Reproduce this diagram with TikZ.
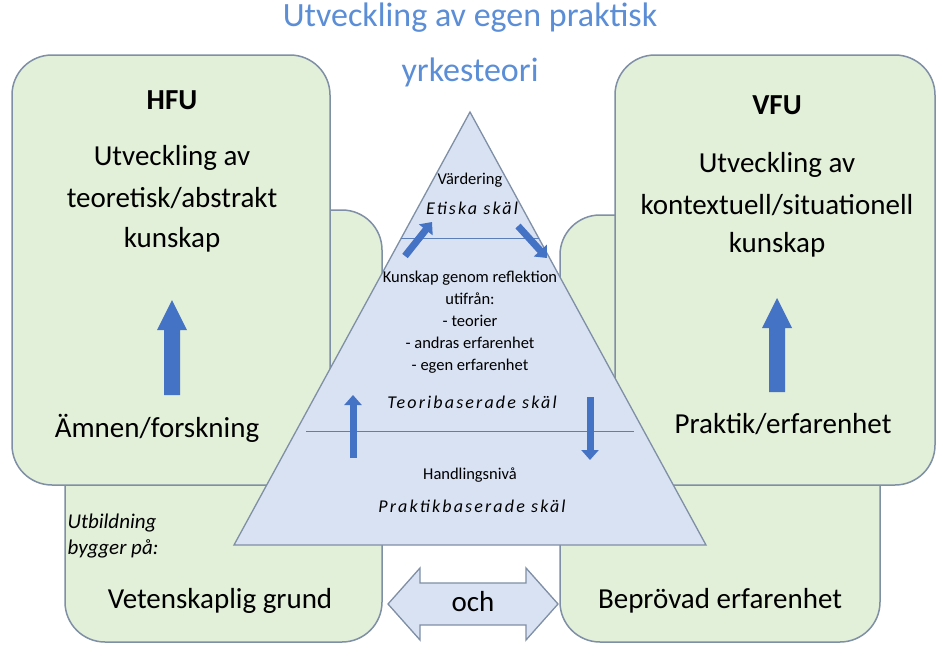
\documentclass[tikz,border=0pt]{standalone}
\usepackage{fontspec}
\setmainfont{Carlito}
\newfontfamily\spaced[LetterSpace=12]{Carlito}
\usetikzlibrary{arrows.meta}
\definecolor{gfill}{HTML}{E2EFD9}
\definecolor{bord}{HTML}{7F8FA6}
\definecolor{tfill}{HTML}{D9E2F3}
\definecolor{tline}{HTML}{5B7DB8}
\definecolor{arr}{HTML}{4472C4}
\definecolor{ttl}{HTML}{5B8ED6}
\tikzset{
 box/.style={draw=bord,line width=1.5pt,fill=gfill,rounded corners=40pt},
 big/.style={font=\fontsize{29}{32}\selectfont,align=center},
 small/.style={font=\fontsize{16.5}{22}\selectfont,align=center},
 ital/.style={font=\fontsize{18}{20}\selectfont\spaced\itshape},
 arrw/.style={fill=arr,draw=none},
}
\begin{document}
\begin{tikzpicture}[x=1pt,y=-1pt]
\useasboundingbox (0,0) rectangle (943,656);
\fill[white] (0,0) rectangle (943,656);
% behind boxes
\draw[box] (65,210) rectangle (382,642);
\draw[box] (560,215) rectangle (880,642);
% front boxes
\draw[box] (12,55) rectangle (330,485);
\draw[box] (615,55) rectangle (935,485);
% title
\node[font=\fontsize{34}{36}\selectfont,text=ttl] (t1) at (470,18) {Utveckling av egen praktisk};
\node[font=\fontsize{34}{36}\selectfont,text=ttl] (t2) at (470,72) {yrkesteori};
% left
\node[big,font=\fontsize{29}{32}\selectfont\bfseries] (hfu) at (172,100) {HFU};
\node[big] (l1) at (172,158) {Utveckling av};
\node[big] (l2) at (172,198) {teoretisk/abstrakt};
\node[big] (l3) at (172,240) {kunskap};
\node[big] (amn) at (157,428) {Ämnen/forskning};
\fill[arr] (164,395) -- (164,330) -- (157,330) -- (172,300) -- (187,330) -- (180,330) -- (180,395) -- cycle;
\coordinate (la) at (172,348);
% right
\node[big,font=\fontsize{29}{32}\selectfont\bfseries] (vfu) at (777,105) {VFU};
\node[big] (r1) at (777,165) {Utveckling av};
\node[big] (r2) at (777,205) {kontextuell/situationell};
\node[big] (r3) at (777,245) {kunskap};
\node[big] (pr) at (783,424) {Praktik/erfarenhet};
\fill[arr] (769,392) -- (769,328) -- (762,328) -- (777,298) -- (792,328) -- (785,328) -- (785,392) -- cycle;
% bottom texts
\node[font=\fontsize{21}{26}\selectfont\itshape,align=left] (ub) at (113,536) {Utbildning\\bygger på:};
\node[big] (vg) at (220,601) {Vetenskaplig grund};
\node[big] (be) at (720,601) {Beprövad erfarenhet};
% triangle
\draw[draw=bord,line width=1.3pt,fill=tfill] (470,112) coordinate (apex) -- (706,545) coordinate (br) -- (234,545) coordinate (bl) -- cycle;
\draw[tline,line width=1pt] (401,238) coordinate (a1) -- (539,238) coordinate (a2);
\draw[tline,line width=1pt] (306,431) coordinate (b1) -- (634,431) coordinate (b2);
\node[small] (vd) at (470,180) {Värdering};
\node[ital] (et) at (472,208) {Etiska skäl};
\node[small] (kg) at (470,322) {Kunskap genom reflektion\\utifrån:\\- teorier\\- andras erfarenhet\\- egen erfarenhet};
\node[ital] (te) at (472,402) {Teoribaserade skäl};
\node[small] (hn) at (470,475) {Handlingsnivå};
\node[ital] (pb) at (472,506) {Praktikbaserade skäl};
% inner arrows
\tikzset{ia/.style={arr,line width=7pt,-{Triangle[width=17pt,length=10pt]}}}
\coordinate (u1) at (353,458); \coordinate (u2) at (353,395);
\draw[ia] (u1) -- (u2);
\coordinate (d1) at (590,397); \coordinate (d2) at (590,460);
\draw[ia] (d1) -- (d2);
\coordinate (e1) at (405,256); \coordinate (e2) at (432,222);
\draw[ia] (e1) -- (e2);
\coordinate (f1) at (518,226); \coordinate (f2) at (547,258);
\draw[ia] (f1) -- (f2);
% och arrow
\draw[draw=bord,line width=1.3pt,fill=tfill] (388,604) -- (420,568) -- (420,583) -- (526,583) -- (526,568) -- (558,604) -- (526,640) -- (526,625) -- (420,625) -- (420,640) -- cycle;
\node[big] (och) at (473,602) {och};
\end{tikzpicture}
\end{document}
